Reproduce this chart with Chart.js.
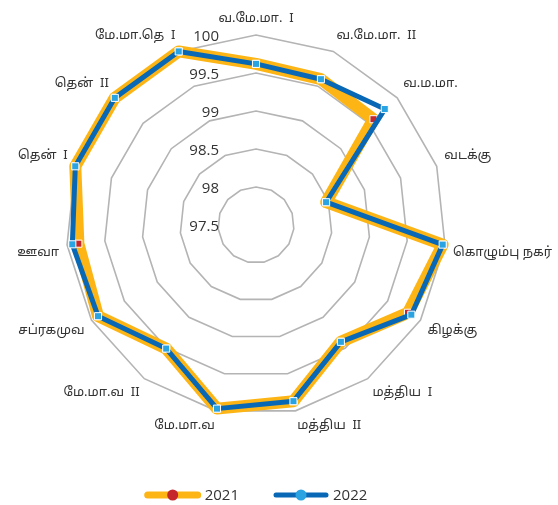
<!DOCTYPE html>
<html>
<head>
<meta charset="utf-8">
<script src="https://cdn.jsdelivr.net/npm/chart.js@4"></script>
<style>
  html, body { margin: 0; padding: 0; background: #fff; }
  #wrap { width: 558px; height: 505px; }
</style>
</head>
<body>
<div id="wrap"><canvas id="radarChart"></canvas></div>
<script>
const regions = ['வ.மே.மா.  I', 'வ.மே.மா.  II', 'வ.ம.மா.', 'வடக்கு', 'கொழும்பு நகர்', 'கிழக்கு', 'மத்திய  I',
    'மத்திய  II', 'மே.மா.வ', 'மே.மா.வ  II', 'சப்ரகமுவ', 'ஊவா', 'தென்  I', 'தென்  II', 'மே.மா.தெ  I'];
const values2021 = [99.62, 99.60, 99.58, 98.47, 99.97, 99.81, 99.40, 99.87, 99.97, 99.51, 99.90, 99.85, 100.0, 100.0, 100.0];
const values2022 = [99.62, 99.60, 99.78, 98.47, 99.97, 99.86, 99.40, 99.87, 99.97, 99.51, 99.90, 99.93, 100.0, 100.0, 100.0];
const tickValues = [97.5, 98, 98.5, 99, 99.5, 100];
const seriesNames = ['2021', '2022'];

const orange = '#FDB515';
const red = '#C4262C';
const darkBlue = '#0868B5';
const lightBlue = '#2AA3E2';

// the auto-fit leaves the web too small, so pin centre and radius after layout
// and move the point labels along with it
const radarFitPlugin = {
    id: 'radarFit',
    afterLayout(chart) {
        const s = chart.scales.r;
        const items = s._pointLabelItems || [];
        const old = items.map((_, i) => s.getPointPosition(i, s.drawingArea));
        s.xCenter = 256;
        s.yCenter = 225;
        s.drawingArea = 190;
        items.forEach((it, i) => {
            const p = s.getPointPosition(i, s.drawingArea);
            const dx = p.x - old[i].x;
            const dy = p.y - old[i].y;
            it.x += dx; it.left += dx; it.right += dx;
            it.y += dy; it.top += dy; it.bottom += dy;
        });
    }
};

// tick labels sit left of the vertical axis, like the original
const tickLabelPlugin = {
    id: 'tickLabels',
    afterDraw(chart) {
        const scale = chart.scales.r;
        const ctx = chart.ctx;
        ctx.save();
        ctx.font = '15px "Open Sans", "Noto Sans", sans-serif';
        ctx.fillStyle = '#333';
        ctx.textAlign = 'right';
        ctx.textBaseline = 'middle';
        tickValues.forEach(v => {
            const d = scale.getDistanceFromCenterForValue(v);
            ctx.fillText(String(v), scale.xCenter - 37, scale.yCenter - d + 2);
        });
        ctx.restore();
    }
};

// legend drawn by hand: line with a dot in the middle, then the year
const lineLegendPlugin = {
    id: 'lineLegend',
    afterDraw(chart) {
        const ctx = chart.ctx;
        const scale = chart.scales.r;
        const styles = [[orange, red, 7], [darkBlue, lightBlue, 5]];
        ctx.save();
        ctx.font = '15px "Open Sans", "Noto Sans", sans-serif';
        ctx.textBaseline = 'middle';
        const iconW = 56, gap = 4, itemGap = 34;
        const widths = seriesNames.map(n => ctx.measureText(n).width);
        const total = widths.reduce((a, w) => a + iconW + gap + w, 0) + itemGap;
        let x = scale.xCenter - total / 2;
        const y = chart.height - 10;
        seriesNames.forEach((name, i) => {
            const [lc, dc, lw] = styles[i];
            ctx.strokeStyle = lc;
            ctx.lineWidth = lw;
            ctx.lineCap = 'round';
            ctx.beginPath();
            ctx.moveTo(x + 3, y);
            ctx.lineTo(x + iconW - 3, y);
            ctx.stroke();
            ctx.fillStyle = dc;
            ctx.beginPath();
            ctx.arc(x + iconW / 2, y, 5.5, 0, Math.PI * 2);
            ctx.fill();
            ctx.fillStyle = '#333';
            ctx.textAlign = 'left';
            ctx.fillText(name, x + iconW + gap, y + 1);
            x += iconW + gap + widths[i] + itemGap;
        });
        ctx.restore();
    }
};

const ctx = document.getElementById('radarChart').getContext('2d');
new Chart(ctx, {
    type: 'radar',
    data: {
        labels: regions,
        datasets: [{
            label: seriesNames[0],
            data: values2021,
            borderColor: orange,
            borderWidth: 12,
            borderJoinStyle: 'round',
            backgroundColor: red,
            pointStyle: 'rect',
            pointRadius: 5,
            pointBackgroundColor: red,
            pointBorderColor: '#fff',
            pointBorderWidth: 1,
            fill: false,
            order: 1
        }, {
            label: seriesNames[1],
            data: values2022,
            borderColor: darkBlue,
            borderWidth: 5,
            borderJoinStyle: 'round',
            backgroundColor: lightBlue,
            pointStyle: 'rect',
            pointRadius: 5,
            pointBackgroundColor: lightBlue,
            pointBorderColor: '#fff',
            pointBorderWidth: 1,
            fill: false,
            order: 0
        }]
    },
    options: {
        responsive: true,
        maintainAspectRatio: false,
        animation: false,
        layout: {
            padding: { top: 0, left: 0, right: 0, bottom: 45 }
        },
        scales: {
            r: {
                min: 97.5,
                max: 100,
                ticks: {
                    stepSize: 0.5,
                    display: false
                },
                angleLines: { display: false },
                grid: {
                    color: '#B4B4B4',
                    lineWidth: 1.6
                },
                pointLabels: {
                    color: '#333',
                    padding: 8,
                    font: { size: 13, family: '"Noto Sans Tamil", "Noto Sans", "Open Sans", sans-serif' }
                }
            }
        },
        plugins: {
            legend: { display: false },
            tooltip: { enabled: false }
        }
    },
    plugins: [radarFitPlugin, tickLabelPlugin, lineLegendPlugin]
});
</script>
</body>
</html>
